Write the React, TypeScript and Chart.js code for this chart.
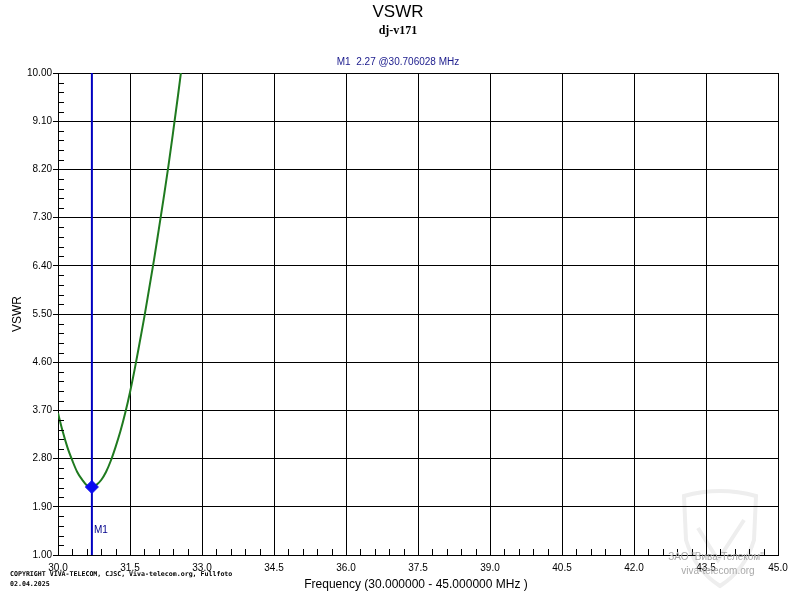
import { useEffect, useRef } from "react";
import { Chart, registerables } from "chart.js";

Chart.register(...registerables);

// ---- data ----
const FREQ_MHZ = [
  30.0, 30.1, 30.2, 30.3, 30.4, 30.5, 30.6, 30.706028, 30.8, 30.9, 31.0, 31.1,
  31.2, 31.3, 31.4, 31.5, 31.6, 31.7, 31.8, 31.9, 32.0, 32.1, 32.2, 32.3, 32.4,
  32.5, 32.56,
];
const VSWR_VALUES = [
  3.65, 3.3, 3.0, 2.76, 2.55, 2.41, 2.3, 2.27, 2.31, 2.4, 2.55, 2.76, 3.02,
  3.31, 3.65, 4.04, 4.48, 4.96, 5.45, 5.98, 6.51, 7.08, 7.66, 8.26, 8.91, 9.58,
  10.0,
];
const MARKER_FREQ = 30.706028;
const MARKER_VSWR = 2.27;
const X_TICKS = [30.0, 31.5, 33.0, 34.5, 36.0, 37.5, 39.0, 40.5, 42.0, 43.5, 45.0];
const Y_TICKS = [1.0, 1.9, 2.8, 3.7, 4.6, 5.5, 6.4, 7.3, 8.2, 9.1, 10.0];

const TITLE = "VSWR";
const SUBTITLE = "dj-v171";
const MARKER_TEXT = "M1  2.27 @30.706028 MHz";
const MARKER_LABEL = "M1";
const X_TITLE = "Frequency (30.000000 - 45.000000 MHz )";
const Y_TITLE = "VSWR";
const COPYRIGHT_1 = "COPYRIGHT VIVA-TELECOM, CJSC, Viva-telecom.org, Fullfoto";
const COPYRIGHT_2 = "02.04.2025";
const WATERMARK_1 = "ЗАО \"Вива-Телеком\"";
const WATERMARK_2 = "viva-telecom.org";

const SANS = "\"Liberation Sans\", Arial, sans-serif";

const decorPlugin = {
  id: "decor",
  beforeDraw(chart: any) {
    const ctx = chart.ctx;
    ctx.save();
    // faint watermark shield
    ctx.strokeStyle = "#eeeeee";
    ctx.lineWidth = 4;
    ctx.beginPath();
    ctx.moveTo(684, 496);
    ctx.quadraticCurveTo(720, 486, 756, 496);
    ctx.lineTo(754, 540);
    ctx.quadraticCurveTo(745, 570, 720, 586);
    ctx.quadraticCurveTo(695, 570, 686, 540);
    ctx.closePath();
    ctx.stroke();
    ctx.beginPath();
    ctx.moveTo(698, 528);
    ctx.lineTo(718, 560);
    ctx.lineTo(744, 520);
    ctx.stroke();
    ctx.restore();
  },
  afterDraw(chart: any) {
    const ctx = chart.ctx;
    const { left, bottom } = chart.chartArea;
    const xs = chart.scales.x;
    const ys = chart.scales.y;
    ctx.save();
    // minor ticks
    ctx.strokeStyle = "#000";
    ctx.lineWidth = 1;
    ctx.beginPath();
    for (let i = 0; i < Y_TICKS.length - 1; i++) {
      for (let k = 1; k < 5; k++) {
        const v = Y_TICKS[i] + ((Y_TICKS[i + 1] - Y_TICKS[i]) * k) / 5;
        const py = Math.round(ys.getPixelForValue(v)) + 0.5;
        ctx.moveTo(left, py);
        ctx.lineTo(left + 6, py);
      }
    }
    for (let i = 0; i < X_TICKS.length - 1; i++) {
      for (let k = 1; k < 5; k++) {
        const v = X_TICKS[i] + ((X_TICKS[i + 1] - X_TICKS[i]) * k) / 5;
        const px = Math.round(xs.getPixelForValue(v)) + 0.5;
        ctx.moveTo(px, bottom);
        ctx.lineTo(px, bottom - 6);
      }
    }
    ctx.stroke();

    ctx.textAlign = "center";
    ctx.textBaseline = "middle";
    ctx.fillStyle = "#000";
    ctx.font = `17px ${SANS}`;
    ctx.fillText(TITLE, 398, 12);
    ctx.font = "bold 12px \"Liberation Serif\", serif";
    ctx.fillText(SUBTITLE, 398, 31);
    ctx.fillStyle = "#1a1a8c";
    ctx.font = `10px ${SANS}`;
    ctx.fillText(MARKER_TEXT, 398, 62);

    // marker label
    ctx.textAlign = "left";
    ctx.fillStyle = "#00008b";
    ctx.fillText(MARKER_LABEL, xs.getPixelForValue(MARKER_FREQ) + 2, 530);

    // axis titles
    ctx.fillStyle = "#000";
    ctx.textAlign = "center";
    ctx.font = `12px ${SANS}`;
    ctx.fillText(X_TITLE, 416, 585);
    ctx.save();
    ctx.translate(18, 314);
    ctx.rotate(-Math.PI / 2);
    ctx.fillText(Y_TITLE, 0, 0);
    ctx.restore();

    // copyright
    ctx.textAlign = "left";
    ctx.font = "bold 6.6px \"DejaVu Sans Mono\", monospace";
    ctx.fillText(COPYRIGHT_1, 10, 574);
    ctx.fillText(COPYRIGHT_2, 10, 584);

    // watermark text
    ctx.textAlign = "center";
    ctx.fillStyle = "#a8a8a8";
    ctx.font = `10px ${SANS}`;
    ctx.fillText(WATERMARK_1, 716, 557);
    ctx.fillText(WATERMARK_2, 718, 571);
    ctx.restore();
  },
};

export default function App() {
  const canvasRef = useRef<HTMLCanvasElement | null>(null);

  useEffect(() => {
    if (!canvasRef.current) return;
    const chart = new Chart(canvasRef.current, {
      type: "line",
      data: {
        datasets: [
          {
            label: "M1",
            data: [{ x: MARKER_FREQ, y: MARKER_VSWR }],
            showLine: false,
            pointStyle: "rectRot",
            pointRadius: 6.5,
            backgroundColor: "#0a0af0",
            borderColor: "#0a0af0",
            borderWidth: 1,
            order: 1,
          },
          {
            label: "M1 line",
            data: [
              { x: MARKER_FREQ, y: Y_TICKS[0] },
              { x: MARKER_FREQ, y: Y_TICKS[Y_TICKS.length - 1] },
            ],
            borderColor: "#0000c0",
            borderWidth: 2,
            pointRadius: 0,
            order: 2,
          },
          {
            label: "VSWR",
            data: FREQ_MHZ.map((f, i) => ({ x: f, y: VSWR_VALUES[i] })),
            borderColor: "#1f7a1f",
            borderWidth: 2,
            pointRadius: 0,
            cubicInterpolationMode: "monotone",
            order: 3,
          },
        ],
      },
      options: {
        responsive: false,
        devicePixelRatio: 1,
        animation: false,
        layout: { padding: { top: 73, right: 22, bottom: 0, left: 0 } },
        plugins: {
          legend: { display: false },
          tooltip: { enabled: false },
          title: { display: false },
        },
        scales: {
          x: {
            type: "linear",
            min: X_TICKS[0],
            max: X_TICKS[X_TICKS.length - 1],
            afterBuildTicks: (s: any) => {
              s.ticks = X_TICKS.map((v) => ({ value: v }));
            },
            afterFit: (s: any) => {
              s.height = 45;
            },
            grid: { color: "#000", lineWidth: 1, drawTicks: false },
            border: { color: "#000", width: 1 },
            ticks: {
              color: "#000",
              font: { family: "Liberation Sans", size: 10 },
              padding: 7,
              maxRotation: 0,
              autoSkip: false,
              callback: (v: any) => Number(v).toFixed(1),
            },
          },
          y: {
            type: "linear",
            min: Y_TICKS[0],
            max: Y_TICKS[Y_TICKS.length - 1],
            afterBuildTicks: (s: any) => {
              s.ticks = Y_TICKS.map((v) => ({ value: v }));
            },
            afterFit: (s: any) => {
              s.width = 58;
            },
            grid: { color: "#000", lineWidth: 1, tickLength: 5 },
            border: { color: "#000", width: 1 },
            ticks: {
              color: "#000",
              font: { family: "Liberation Sans", size: 10 },
              padding: 1,
              autoSkip: false,
              callback: (v: any) => Number(v).toFixed(2),
            },
          },
        },
      },
      plugins: [decorPlugin],
    } as any);
    return () => chart.destroy();
  }, []);

  return (
    <div
      style={{
        position: "fixed",
        left: 0,
        top: 0,
        width: 800,
        height: 600,
        background: "#fff",
      }}
    >
      <canvas ref={canvasRef} width={800} height={600} style={{ display: "block" }} />
    </div>
  );
}
